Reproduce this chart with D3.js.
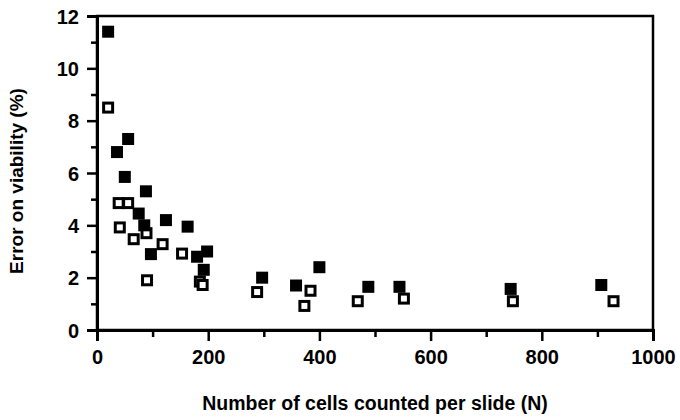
<!DOCTYPE html>
<html>
<head>
<meta charset="utf-8">
<script src="https://cdn.jsdelivr.net/npm/d3@7"></script>
<style>
body{margin:0;background:#fff;}
text{font-family:"Liberation Sans",Arial,Helvetica,sans-serif;font-weight:bold;fill:#000;}
</style>
</head>
<body>
<div id="viz"></div>
<script>
// filled squares
var filledN=[20,36,56,50,88,75,85,124,163,97,180,198,192,297,358,400,488,544,744,907];
var filledErr=[11.4,6.8,7.3,5.85,5.3,4.45,4.0,4.2,3.95,2.9,2.8,3.0,2.3,2.0,1.7,2.4,1.65,1.65,1.57,1.72];
// open squares
var openN=[20,39,56,41,66,89,118,153,90,185,190,288,373,384,469,552,748,929];
var openErr=[8.5,4.85,4.85,3.92,3.47,3.7,3.28,2.92,1.9,1.85,1.72,1.45,0.92,1.5,1.1,1.2,1.1,1.1];

var xTicks=[0,200,400,600,800,1000],
    xMinor=[100,300,500,700,900],
    yTicks=[0,2,4,6,8,10,12],
    yMinor=[1,3,5,7,9,11];

var xTitle='Number of cells counted per slide (N)',
    yTitle='Error on viability (%)';
//----------------------------------------------------------------
var W=680,H=420,
    mLeft=97,mTop=16,
    width=556,height=314;

var xScale=d3.scaleLinear().domain([0,1000]).range([0,width]);
var yScale=d3.scaleLinear().domain([0,12]).range([height,0]);

var svg=d3.select('#viz').append('svg')
    .attr('width',W)
    .attr('height',H);

var g=svg.append('g').attr('transform','translate('+mLeft+','+mTop+')');

// frame
g.append('rect')
    .attr('x',0).attr('y',0)
    .attr('width',width).attr('height',height)
    .style('fill','none')
    .style('stroke','#000')
    .style('stroke-width',2.5);

// minor ticks
g.append('g')
    .attr('transform','translate(0,'+height+')')
    .call(d3.axisBottom(xScale).tickValues(xMinor).tickSize(7).tickFormat(''))
    .call(function(a){a.select('.domain').remove();})
    .selectAll('line').style('stroke-width',2.5);
g.append('g')
    .call(d3.axisLeft(yScale).tickValues(yMinor).tickSize(6).tickFormat(''))
    .call(function(a){a.select('.domain').remove();})
    .selectAll('line').style('stroke-width',2.5);

// major ticks + labels
var xAxis=g.append('g')
    .attr('transform','translate(0,'+height+')')
    .call(d3.axisBottom(xScale).tickValues(xTicks).tickSize(11).tickPadding(9).tickFormat(d3.format('d')));
xAxis.select('.domain').style('stroke-width',3);
xAxis.selectAll('line').style('stroke-width',2.5);
xAxis.selectAll('text').style('font-size','20px').style('font-family','"Liberation Sans",Arial,sans-serif');

var yAxis=g.append('g')
    .call(d3.axisLeft(yScale).tickValues(yTicks).tickSize(10).tickPadding(8));
yAxis.select('.domain').style('stroke-width',3);
yAxis.selectAll('line').style('stroke-width',2.5);
yAxis.selectAll('text').style('font-size','20px').style('font-family','"Liberation Sans",Arial,sans-serif').attr('dy','0.36em');

// titles
svg.append('text')
    .attr('x',mLeft+width/2)
    .attr('y',410)
    .attr('text-anchor','middle')
    .style('font-size','19.5px')
    .text(xTitle);
svg.append('text')
    .attr('transform','translate(23,'+(mTop+165)+') rotate(-90)')
    .attr('text-anchor','middle')
    .style('font-size','19px')
    .text(yTitle);

// points
var filled=filledN.map(function(d,i){return {n:d,e:filledErr[i]};});
var open=openN.map(function(d,i){return {n:d,e:openErr[i]};});

g.selectAll('rect.open').data(open)
    .enter().append('rect')
    .attr('class','open')
    .attr('x',function(d){return xScale(d.n)-4.5;})
    .attr('y',function(d){return yScale(d.e)-4.5;})
    .attr('width',9)
    .attr('height',9)
    .style('fill','#fff')
    .style('stroke','#000')
    .style('stroke-width',3);

g.selectAll('rect.filled').data(filled)
    .enter().append('rect')
    .attr('class','filled')
    .attr('x',function(d){return xScale(d.n)-6;})
    .attr('y',function(d){return yScale(d.e)-6;})
    .attr('width',12)
    .attr('height',12)
    .style('fill','#000');
</script>
</body>
</html>
